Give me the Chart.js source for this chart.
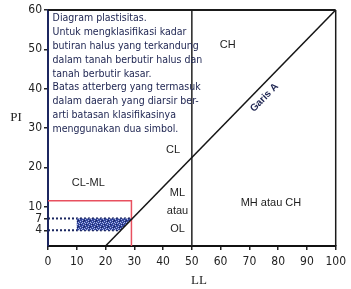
<!DOCTYPE html>
<html>
<head>
<meta charset="utf-8">
<script src="https://cdn.jsdelivr.net/npm/chart.js@4.4.0/dist/chart.umd.min.js"></script>
<style>
    body { margin: 0; background: #fff; }
    #wrap { width: 351px; height: 289px; }
</style>
</head>
<body>
<div id="wrap"><canvas id="grafico" width="351" height="289"></canvas></div>
<script>
// diagram plastisitas: LL (batas cair) vs PI (indeks plastisitas)
const ticksX = [0, 10, 20, 30, 40, 50, 60, 70, 80, 90, 100];
const ticksY = [4, 7, 10, 20, 30, 40, 50, 60];

const garisA_LL = [20, 100];
const garisA_PI = [0, 60];
const batasLL_LL = [50, 50];
const batasLL_PI = [0, 60];
const kotak_LL = [0, 29, 29];
const kotak_PI = [11.5, 11.5, 0];
const garis7_LL = [0, 29.3];
const garis7_PI = [7, 7];
const garis4_LL = [0, 25.3];
const garis4_PI = [4, 4];
const arsir_LL = [10, 10, 29.3, 25.3, 10];
const arsir_PI = [4, 7, 7, 4, 4];

const labelDaerah = ['CH', 'CL', 'CL-ML', 'ML', 'atau', 'OL', 'MH atau CH'];
const labelDaerah_LL = [62.5, 43.5, 14, 45, 45, 45, 77.5];
const labelDaerah_PI = [51, 24.3, 16, 13.4, 8.8, 4.3, 10.9];

const catatan = [
    'Diagram plastisitas.',
    'Untuk mengklasifikasi kadar',
    'butiran halus yang terkandung',
    'dalam tanah berbutir halus dan',
    'tanah berbutir kasar.',
    'Batas atterberg yang termasuk',
    'dalam daerah yang diarsir ber-',
    'arti batasan klasifikasinya',
    'menggunakan dua simbol.'
];

const fontNarrow = '"Liberation Sans Narrow", "DejaVu Sans Condensed", "Liberation Sans", sans-serif';

function titik(xs, ys) {
    return xs.map((x, i) => ({ x: x, y: ys[i] }));
}

const canvas = document.getElementById('grafico');
const ctxUtama = canvas.getContext('2d');

function buatPola() {
    const c = document.createElement('canvas');
    c.width = 6;
    c.height = 6;
    const g = c.getContext('2d');
    g.fillStyle = '#34479c';
    g.fillRect(0, 0, 6, 6);
    g.fillStyle = '#aab6e6';
    [[0, 0], [3, 1], [1, 3], [4, 4], [2, 5], [5, 2], [1, 1], [4, 0]].forEach(p => g.fillRect(p[0], p[1], 1, 1));
    g.fillStyle = '#1b2460';
    [[2, 2], [5, 5], [0, 4]].forEach(p => g.fillRect(p[0], p[1], 1, 1));
    return ctxUtama.createPattern(c, 'repeat');
}

const pluginTeks = {
    id: 'teks',
    afterDatasetsDraw(chart) {
        const ctx = chart.ctx;
        const sx = chart.scales.x;
        const sy = chart.scales.y;
        const area = chart.chartArea;
        ctx.save();

        // bingkai atas dan kanan
        ctx.strokeStyle = '#1a1a1a';
        ctx.lineWidth = 2;
        ctx.beginPath();
        ctx.moveTo(area.left, area.top);
        ctx.lineTo(area.right, area.top);
        ctx.stroke();
        ctx.lineWidth = 1.5;
        ctx.beginPath();
        ctx.moveTo(area.right, area.top);
        ctx.lineTo(area.right, area.bottom);
        ctx.stroke();

        // catatan di kotak kiri atas
        ctx.fillStyle = '#1c2350';
        ctx.font = '10.5px ' + fontNarrow;
        ctx.textAlign = 'left';
        ctx.textBaseline = 'middle';
        let y0 = sy.getPixelForValue(57.8);
        catatan.forEach((baris, i) => {
            ctx.fillText(baris, sx.getPixelForValue(1.6), y0 + i * 13.8);
        });

        // label daerah
        ctx.fillStyle = '#1e1e1e';
        ctx.font = '11px "Liberation Sans", Arial, sans-serif';
        ctx.textAlign = 'center';
        labelDaerah.forEach((t, i) => {
            ctx.fillText(t, sx.getPixelForValue(labelDaerah_LL[i]), sy.getPixelForValue(labelDaerah_PI[i]));
        });

        // tulisan garis A, miring mengikuti garis
        const dx = sx.getPixelForValue(garisA_LL[1]) - sx.getPixelForValue(garisA_LL[0]);
        const dy = sy.getPixelForValue(garisA_PI[1]) - sy.getPixelForValue(garisA_PI[0]);
        ctx.translate(sx.getPixelForValue(75.2), sy.getPixelForValue(37.7));
        ctx.rotate(Math.atan2(dy, dx));
        ctx.fillStyle = '#1c2350';
        ctx.font = 'bold 10px "Liberation Sans", Arial, sans-serif';
        ctx.fillText('Garis A', 0, 0);
        ctx.setTransform(1, 0, 0, 1, 0, 0);

        // judul sumbu
        ctx.fillStyle = '#222';
        ctx.font = '13px "Liberation Serif", serif';
        ctx.fillText('PI', 16, 118);
        ctx.fillText('LL', 199, 281);
        ctx.restore();
    }
};

new Chart(canvas, {
    type: 'scatter',
    data: {
        datasets: [
            {
                data: titik(arsir_LL, arsir_PI),
                showLine: true,
                fill: 'shape',
                backgroundColor: buatPola(),
                borderWidth: 0,
                pointRadius: 0,
                order: 1
            },
            {
                data: titik(garis7_LL, garis7_PI),
                showLine: true,
                borderColor: '#1a2660',
                borderWidth: 2,
                borderDash: [2, 2],
                pointRadius: 0,
                order: 3
            },
            {
                data: titik(garis4_LL, garis4_PI),
                showLine: true,
                borderColor: '#1a2660',
                borderWidth: 2,
                borderDash: [2, 2],
                pointRadius: 0,
                order: 3
            },
            {
                data: titik(kotak_LL, kotak_PI),
                showLine: true,
                borderColor: '#e8505f',
                borderWidth: 1.5,
                pointRadius: 0,
                order: 2
            },
            {
                data: titik(garisA_LL, garisA_PI),
                showLine: true,
                borderColor: '#151515',
                borderWidth: 1.5,
                pointRadius: 0,
                order: 0
            },
            {
                data: titik(batasLL_LL, batasLL_PI),
                showLine: true,
                borderColor: '#222',
                borderWidth: 1.5,
                pointRadius: 0,
                order: 0
            }
        ]
    },
    options: {
        responsive: false,
        animation: false,
        events: [],
        layout: {
            padding: { top: 10, right: 14, left: 0, bottom: 0 }
        },
        plugins: {
            legend: { display: false },
            tooltip: { enabled: false }
        },
        scales: {
            x: {
                type: 'linear',
                min: 0,
                max: 100,
                afterBuildTicks: s => { s.ticks = ticksX.map(v => ({ value: v })); },
                afterFit: s => { s.height = 43; },
                grid: { drawOnChartArea: false, tickLength: 4, color: '#222', lineWidth: 1.5 },
                border: { color: '#111', width: 2 },
                ticks: {
                    color: '#222',
                    padding: 5,
                    maxRotation: 0,
                    font: { family: fontNarrow, size: 12 }
                }
            },
            y: {
                type: 'linear',
                min: 0,
                max: 60,
                afterBuildTicks: s => { s.ticks = ticksY.map(v => ({ value: v })); },
                afterFit: s => { s.width = 48; },
                grid: { drawOnChartArea: false, tickLength: 4, color: '#222', lineWidth: 1.5 },
                border: { color: '#1c2660', width: 2 },
                ticks: {
                    color: '#222',
                    padding: 2,
                    font: { family: fontNarrow, size: 12 }
                }
            }
        }
    },
    plugins: [pluginTeks]
});
</script>
</body>
</html>
